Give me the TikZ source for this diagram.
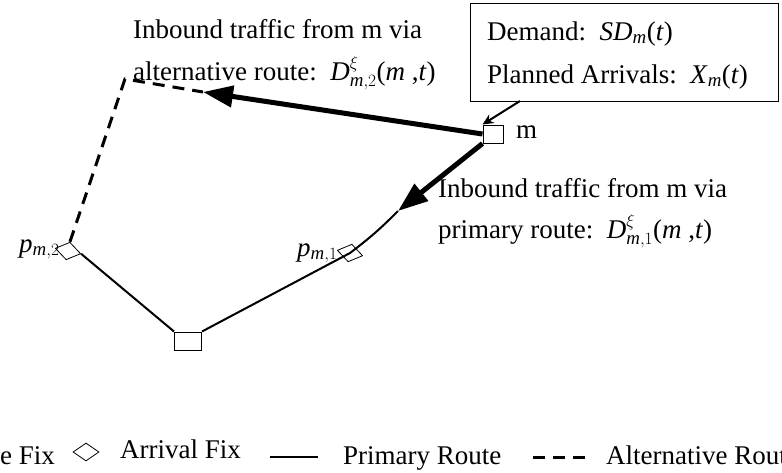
\documentclass[tikz,border=0pt]{standalone}
\usepackage{amsmath}
\usepackage{fontspec}
\setmainfont{Liberation Serif}
\usetikzlibrary{arrows.meta,shapes.geometric}
% italic letters in formulas taken from the text face
\newcommand{\vi}[1]{\textit{#1}}
\begin{document}
\begin{tikzpicture}[x=1pt,y=-1pt,
  every node/.style={font=\fontsize{27}{31}\selectfont, inner sep=0pt},
  fixsq/.style={draw, line width=1pt, rectangle, minimum width=#1, minimum height=18pt},
  arrfix/.style={draw, line width=0.8pt, diamond, minimum width=26pt, minimum height=18pt},
  primary/.style={line width=2pt},
  altroute/.style={line width=3pt, dash pattern=on 12pt off 8pt},
  flow/.style={line width=5pt, -{Triangle[length=30pt,width=21pt]}},
  lbl/.style={anchor=base west}]
\useasboundingbox (0,0) rectangle (782,472);
\clip (0,0) rectangle (782,472);

% fixes
\node[fixsq=20pt] (m) at (493,134) {};
\node[fixsq=27pt] (base) at (188,341) {};
\node[arrfix, rotate=-12] (p1) at (350,253) {};
\node[arrfix, rotate=-12] (p2) at (68,251) {};
\coordinate (corner) at (125,79);
\coordinate (alttip) at (203,92);
\coordinate (pritip) at (398,211);

% routes
\draw[primary] (pritip) to[bend left=4] (p1.center) -- (base.north east);
\draw[primary] (p2.east) -- (base.north west);
\draw[altroute] (p2.north) -- (corner) -- (alttip);

% inbound flows from m
\draw[flow] (m.west) -- (alttip);
\draw[flow] (m.south west) -- (pritip);

% demand box
\node[draw, line width=1pt, minimum width=308pt, minimum height=98pt, anchor=north west] (info) at (470,3) {};
\node[lbl] (dem) at (487,40) {Demand:\ \ \vi{SD}$_{\vi{m}}$(\vi{t})};
\node[lbl] (plan) at (487,83) {Planned Arrivals:\ \ \vi{X}$_{\vi{m}}$(\vi{t})};
\draw[line width=2pt, -{Stealth[length=11pt,width=10pt]}] (520,101) coordinate (boxout) -- (m.north west);

% labels
\node[anchor=west] (mlab) at (516,132) {m};
\node[lbl] (alt1) at (133,38) {Inbound traffic from m via};
\node[lbl] (alt2) at (133,80) {alternative route:\ \ \vi{D}$^{\xi}_{\vi{m},2}$(\vi{m} ,\vi{t})};
\node[lbl] (pri1) at (438,197) {Inbound traffic from m via};
\node[lbl] (pri2) at (438,238) {primary route:\ \ \vi{D}$^{\xi}_{\vi{m},1}$(\vi{m} ,\vi{t})};
\node[lbl] (p1lab) at (297,256) {\vi{p}$_{\vi{m},1}$};
\node[lbl] (p2lab) at (19,252) {\vi{p}$_{\vi{m},2}$};

% legend
\node[lbl] (legsq) at (0,464) {e Fix};
\node[arrfix] (legfix) at (86,452) {};
\node[lbl] (legarr) at (120,458) {Arrival Fix};
\draw[primary] (270,457) coordinate (lp1) -- (318,457) coordinate (lp2);
\node[lbl] (legpri) at (343,464) {Primary Route};
\draw[altroute] (533,457) coordinate (la1) -- (592,457) coordinate (la2);
\node[lbl] (legalt) at (606,464) {Alternative Route};
\end{tikzpicture}
\end{document}
